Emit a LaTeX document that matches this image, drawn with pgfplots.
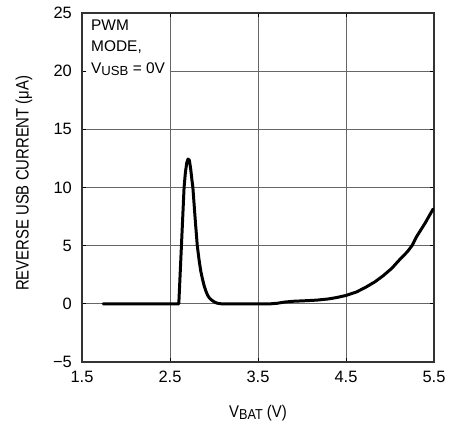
\documentclass[border=0pt]{standalone}
\usepackage{pgfplots}
\pgfplotsset{compat=1.18}
\usepackage{graphicx}
\usepackage{fontspec}
\setmainfont{Liberation Sans}[FakeStretch=0.88]
\newfontfamily\plainfont{Liberation Sans}
\newfontfamily\condfont{Liberation Sans}[FakeStretch=0.83]
\newcommand\sub[1]{\raisebox{-0.3ex}{\scalebox{0.85}{#1}}}
\begin{document}
\fontsize{17pt}{21.7pt}\selectfont
\begin{tikzpicture}
\begin{axis}[
  name=ax,
  scale only axis,
  width=352bp, height=349bp,
  xmin=1.5, xmax=5.5, ymin=-5, ymax=25,
  xtick={1.5,2.5,3.5,4.5,5.5},
  xticklabels={1.5,2.5,3.5,4.5,5.5},
  ytick={-5,0,5,10,15,20,25},
  yticklabels={−5,0,5,10,15,20,25},
  grid=major,
  major grid style={black!60, line width=0.8pt},
  axis line style={black!80, line width=1.5pt},
  tick style={black, line width=0.8pt},
  major tick length=4pt,
  tick align=inside,
  ticklabel style={font=\plainfont\fontsize{16.5pt}{20pt}\selectfont},
  xticklabel style={inner sep=0pt, yshift=-9bp},
  yticklabel style={inner sep=0pt, xshift=-10bp},
  xlabel={V\sub{BAT} (V)},
  ylabel={REVERSE USB CURRENT (μA)},
  xlabel style={font=\fontsize{17pt}{20pt}\selectfont, at={(axis description cs:0.5,0)}, anchor=base, yshift=-55bp},
  ylabel style={font=\condfont\fontsize{18pt}{20pt}\selectfont, at={(axis description cs:-0.165,0.512)}, anchor=center},
]
\addplot[black, line width=3pt, line join=round, line cap=round] coordinates {
(1.74,0) (2.59,0) (2.60,0) (2.615,2.5) (2.63,5) (2.645,7.5) (2.66,10) (2.675,11.3) (2.69,12.1) (2.705,12.45) (2.72,12.35) (2.735,11.6) (2.75,10.6) (2.76,10) (2.785,7.4) (2.81,5) (2.83,3.8) (2.85,2.8) (2.87,2.1) (2.89,1.5) (2.91,1.05) (2.93,0.7) (2.95,0.48) (2.97,0.34) (3.0,0.18) (3.03,0.07) (3.07,0.01) (3.10,0) (3.64,0) (3.72,0.05) (3.80,0.15) (3.90,0.22) (4.05,0.27) (4.17,0.32) (4.30,0.42) (4.40,0.55) (4.50,0.72) (4.62,1.02) (4.73,1.45) (4.83,1.9) (4.92,2.4) (5.02,3.05) (5.11,3.8) (5.2,4.5) (5.25,5.0) (5.30,5.75) (5.40,6.95) (5.49,8.15)
};
\node[anchor=north west, fill=white, align=left, inner xsep=5bp, inner ysep=3bp, font=\plainfont\fontsize{15.5pt}{21.7pt}\selectfont] at (axis cs:1.5,25) [xshift=4bp, yshift=-3.4bp] {PWM\\MODE,\\V\sub{USB} = 0V};
\end{axis}
\path (ax.south west) ++(-82bp,-61bp) rectangle ++(462bp,423bp);
\end{tikzpicture}
\end{document}
